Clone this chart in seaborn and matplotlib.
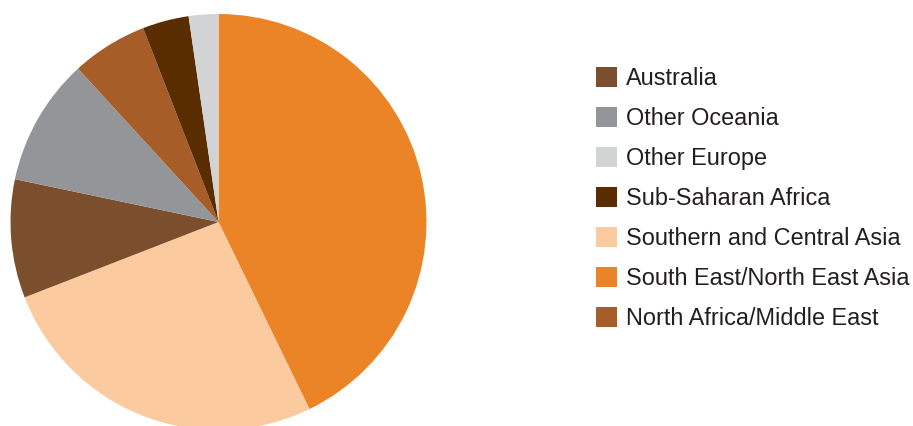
import matplotlib
matplotlib.use("Agg")
import matplotlib.pyplot as plt
from matplotlib.patches import Patch
import seaborn as sns

# data (share, %), in pie drawing order (clockwise from 12 o'clock)
pie_regions = ["South East/North East Asia", "Southern and Central Asia", "Australia",
               "Other Oceania", "North Africa/Middle East", "Sub-Saharan Africa", "Other Europe"]
pie_shares = [42.8, 26.3, 9.2, 9.9, 5.9, 3.6, 2.3]

# legend order as shown
legend_regions = ["Australia", "Other Oceania", "Other Europe", "Sub-Saharan Africa",
                  "Southern and Central Asia", "South East/North East Asia", "North Africa/Middle East"]

region_colors = {
    "Australia": "#7b4f2e",
    "Other Oceania": "#939598",
    "Other Europe": "#d1d3d4",
    "Sub-Saharan Africa": "#5a2d00",
    "Southern and Central Asia": "#fbca9f",
    "South East/North East Asia": "#eb8426",
    "North Africa/Middle East": "#a65d27",
}

sns.set_theme(style="white")
plt.rcParams["font.family"] = ["Liberation Sans", "DejaVu Sans"]

W, H = 913, 426
fig = plt.figure(figsize=(W / 100, H / 100), dpi=100)

# pie centre (218.5, 222) px, radius 208 px
cx, cy, r = 218.5, 222, 208
ax = fig.add_axes([(cx - r) / W, (H - cy - r) / H, 2 * r / W, 2 * r / H])
pal = [region_colors[k] for k in pie_regions]
ax.pie(pie_shares, colors=pal, startangle=90, counterclock=False, radius=1,
       wedgeprops=dict(linewidth=0))
ax.set_xlim(-1, 1)
ax.set_ylim(-1, 1)
ax.set_aspect("equal")
ax.axis("off")

handles = [Patch(facecolor=region_colors[k], edgecolor="none") for k in legend_regions]
fig.legend(handles, legend_regions, loc="upper left",
           bbox_to_anchor=(596 / W, 1 - 67 / H), frameon=False,
           fontsize=16.9, labelcolor="#231f20",
           handlelength=0.89, handleheight=0.89, handletextpad=0.38,
           labelspacing=0.725, borderpad=0, borderaxespad=0)

fig.savefig("out.png", dpi=100)
